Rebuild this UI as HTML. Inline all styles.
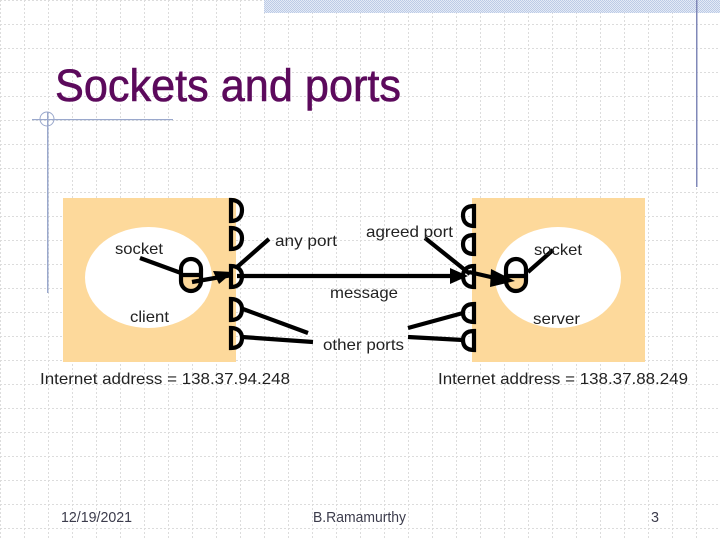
<!DOCTYPE html>
<html><head><meta charset="utf-8">
<style>
html,body{margin:0;padding:0;background:#fff;width:720px;height:540px;overflow:hidden}
svg{display:block}
text{font-family:"Liberation Sans",sans-serif;font-size:16px;fill:#222}
.f{font-family:"Liberation Sans",sans-serif;font-size:15px;fill:#3c3c4c}
</style></head><body>
<svg width="720" height="540" viewBox="0 0 720 540" xmlns="http://www.w3.org/2000/svg">
<defs>
<pattern id="gv" width="24" height="4" patternUnits="userSpaceOnUse"><rect x="0" y="0" width="1" height="2" fill="#dcdcdc"/></pattern>
<pattern id="gh" width="4" height="24" patternUnits="userSpaceOnUse"><rect x="0" y="0" width="2" height="1" fill="#dcdcdc"/></pattern>
<pattern id="band" width="2" height="2" patternUnits="userSpaceOnUse"><rect width="2" height="2" fill="#e4eaf6"/><rect width="1" height="1" fill="#bccbe6"/><rect x="1" y="1" width="1" height="1" fill="#bccbe6"/></pattern>
</defs>
<rect width="720" height="540" fill="#fff"/>
<rect width="720" height="540" fill="url(#gv)"/>
<rect width="720" height="540" fill="url(#gh)"/>
<rect x="264" y="0" width="456" height="13" fill="url(#band)"/>
<rect x="696" y="0" width="1.500" height="187" fill="#8088b8"/>
<rect x="47" y="112" width="1.500" height="181" fill="#9aa8cc"/>
<rect x="32" y="119" width="141" height="1.200" fill="#9aa8cc"/>
<circle cx="47" cy="119" r="7" fill="none" stroke="#9aa8cc" stroke-width="1"/>
<text x="55" y="101" style="font-size:45px;fill:#5c0a5c;stroke:#5c0a5c;stroke-width:.6" textLength="346" lengthAdjust="spacingAndGlyphs">Sockets and ports</text>

<rect x="63" y="198" width="173" height="164" fill="#fdd99b"/>
<rect x="472" y="198" width="173" height="164" fill="#fdd99b"/>
<ellipse cx="148.500" cy="277.500" rx="63.500" ry="50.500" fill="#fff"/>
<ellipse cx="558" cy="277.500" rx="63" ry="50.500" fill="#fff"/>

<g fill="none" stroke="#000" stroke-width="4.200">
<path d="M231 200 C239 200 242 205 242 210 C242 216 239 221 231 221 Z"/>
<path d="M231 228 C239 228 242 233 242 238 C242 244 239 249 231 249 Z"/>
<path d="M231 266 C239 266 242 271 242 276 C242 282 239 287 231 287 Z"/>
<path d="M231 299 C239 299 242 304 242 309 C242 315 239 320 231 320 Z"/>
<path d="M231 328 C239 328 242 333 242 338 C242 344 239 348 231 348 Z"/>
<path d="M474 206 C466 206 463 210 463 215 C463 221 466 226 474 226 Z"/>
<path d="M474 235 C466 235 463 239 463 244 C463 250 466 254 474 254 Z"/>
<path d="M474 266 C466 266 463 271 463 276 C463 282 466 287 474 287 Z"/>
<path d="M474 304 C466 304 463 308 463 313 C463 318 466 322 474 322 Z"/>
<path d="M474 331 C466 331 463 335 463 340 C463 346 466 350 474 350 Z"/>
</g>

<path d="M182 275 H200 V281 A9 9.500 0 0 1 182 281 Z" fill="#fdd99b"/>
<path d="M507 276 H525 V281 A9 9.500 0 0 1 507 281 Z" fill="#fdd99b"/>
<g fill="none" stroke="#000" stroke-width="4.200">
<rect x="181" y="259" width="20" height="32" rx="10" ry="10"/>
<rect x="506" y="259" width="20" height="32" rx="10" ry="10"/>
<line x1="181" y1="275" x2="201" y2="275"/>
<line x1="506" y1="276" x2="526" y2="276"/>
<line x1="140" y1="258" x2="181" y2="273"/>
<line x1="192" y1="282" x2="232" y2="275"/>
<line x1="237" y1="276" x2="455" y2="276"/>
<line x1="469" y1="272" x2="495" y2="278"/>
<line x1="236" y1="268" x2="269" y2="239"/>
<line x1="425" y1="238" x2="470" y2="274"/>
<line x1="528" y1="272" x2="553" y2="250"/>
<line x1="243" y1="309" x2="308" y2="333"/>
<line x1="242" y1="337" x2="313" y2="342"/>
<line x1="408" y1="328" x2="463" y2="313"/>
<line x1="408" y1="337" x2="463" y2="340"/>
</g>
<polygon points="213,271 233,272 219,284" fill="#000"/>
<polygon points="450,268 468,276 450,284" fill="#000"/>
<polygon points="491,269 515,281 490,287" fill="#000"/>

<text x="115" y="254" textLength="48" lengthAdjust="spacingAndGlyphs">socket</text>
<text x="275" y="246" textLength="62" lengthAdjust="spacingAndGlyphs">any port</text>
<text x="366" y="237" textLength="87" lengthAdjust="spacingAndGlyphs">agreed port</text>
<text x="534" y="255" textLength="48" lengthAdjust="spacingAndGlyphs">socket</text>
<text x="330" y="298" textLength="68" lengthAdjust="spacingAndGlyphs">message</text>
<text x="130" y="322" textLength="39" lengthAdjust="spacingAndGlyphs">client</text>
<text x="533" y="324" textLength="47" lengthAdjust="spacingAndGlyphs">server</text>
<text x="323" y="350" textLength="81" lengthAdjust="spacingAndGlyphs">other ports</text>
<text x="40" y="384" textLength="250" lengthAdjust="spacingAndGlyphs">Internet address = 138.37.94.248</text>
<text x="438" y="384" textLength="250" lengthAdjust="spacingAndGlyphs">Internet address = 138.37.88.249</text>

<text class="f" x="61" y="522" textLength="71" lengthAdjust="spacingAndGlyphs">12/19/2021</text>
<text class="f" x="313" y="522" textLength="93" lengthAdjust="spacingAndGlyphs">B.Ramamurthy</text>
<text class="f" x="651" y="522" textLength="8" lengthAdjust="spacingAndGlyphs">3</text>
</svg>
</body></html>
